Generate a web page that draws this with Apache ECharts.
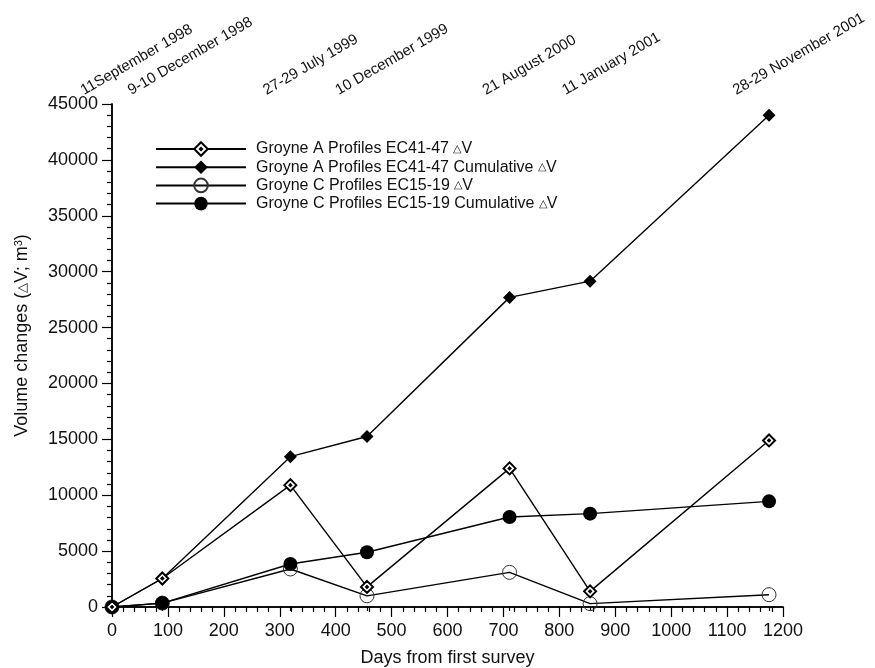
<!DOCTYPE html>
<html>
<head>
<meta charset="utf-8">
<script src="https://cdn.jsdelivr.net/npm/echarts@6/dist/echarts.min.js"></script>
<style>
  html, body { margin: 0; padding: 0; background: #fff; }
  #chart { width: 875px; height: 668px; }
</style>
</head>
<body>
<div id="chart"></div>
<script>
// Survey days counted from 11 September 1998
const surveyDays = [0, 90, 319, 456, 711, 855, 1175];
const surveyDates = [
  '11September 1998', '9-10 December 1998', '27-29 July 1999',
  '10 December 1999', '21 August 2000', '11 January 2001', '28-29 November 2001'
];

// Volume changes (m³)
const groyneA_dV = [0, 2550, 10900, 1800, 12400, 1400, 14900];
const groyneA_cum = [0, 2550, 13450, 15250, 27700, 29150, 44000];
const groyneC_dV = [0, 350, 3400, 1000, 3100, 300, 1100];
const groyneC_cum = [0, 350, 3850, 4900, 8050, 8350, 9450];

const seriesNames = [
  'Groyne A Profiles EC41-47 ΔV',
  'Groyne A Profiles EC41-47 Cumulative ΔV',
  'Groyne C Profiles EC15-19 ΔV',
  'Groyne C Profiles EC15-19 Cumulative ΔV'
];

const FONT = 'Liberation Sans, Arial, Helvetica, sans-serif';
const DATE_FONT_SIZE = 15;
const pair = (xs, ys) => xs.map((x, i) => [x, ys[i]]);

// Open diamond with a small dot in its middle
const openDiamond = 'path://M0,-10L10,0L0,10L-10,0Z M0,-1.6L1.6,0L0,1.6L-1.6,0Z';

const lineStyle = { color: '#000', width: 1.4 };

const chart = echarts.init(document.getElementById('chart'), null, { renderer: 'canvas' });

chart.setOption({
  backgroundColor: '#fff',
  animation: false,
  textStyle: { fontFamily: FONT },
  grid: { left: 112, right: 92, top: 104, bottom: 61, outerBoundsMode: 'none', containLabel: false },
  legend: {
    left: 155,
    top: 141,
    padding: 0,
    orient: 'vertical',
    itemWidth: 90,
    itemHeight: 17,
    itemGap: 2.2,
    data: seriesNames,
    formatter: name => name.replace('ΔV', '{t|△}V'),
    textStyle: {
      fontFamily: FONT, fontSize: 16, color: '#111', padding: [0, 0, 0, 5],
      rich: { t: { fontFamily: FONT, fontSize: 11, color: '#111' } }
    }
  },
  xAxis: [
    {
      type: 'value', position: 'bottom', min: 0, max: 1200, interval: 100,
      name: 'Days from first survey', nameLocation: 'middle', nameGap: 42,
      nameTextStyle: { fontFamily: FONT, fontSize: 18, color: '#111' },
      axisLine: { lineStyle: { color: '#000', width: 1.5 } },
      axisTick: { length: 10, lineStyle: { color: '#000', width: 1.2 } },
      minorTick: { show: true, splitNumber: 5, length: 5, lineStyle: { color: '#000', width: 1.2 } },
      axisLabel: { fontFamily: FONT, fontSize: 18, color: '#111', margin: 15, formatter: v => String(v) },
      splitLine: { show: false }
    },
    {
      type: 'value', position: 'top', min: 0, max: 1200,
      axisLine: { lineStyle: { color: '#000', width: 1.5 } },
      axisTick: {
        customValues: surveyDays, inside: true, length: 4,
        lineStyle: { color: '#000', width: 1.2 }
      },
      axisLabel: { show: false },
      splitLine: { show: false }
    }
  ],
  yAxis: [
    {
      type: 'value', min: 0, max: 45000, interval: 5000,
      name: 'Volume changes ({t|△}V; m{s|3})', nameLocation: 'middle', nameGap: 80,
      nameTextStyle: {
        fontFamily: FONT, fontSize: 18, color: '#111', padding: [0, 0, 0, 40],
        rich: {
          t: { fontFamily: FONT, fontSize: 13, color: '#111' },
          s: { fontFamily: FONT, fontSize: 11, color: '#111', padding: [0, 0, 8, 0] }
        }
      },
      axisLine: { lineStyle: { color: '#000', width: 1.5 } },
      axisTick: { length: 10, lineStyle: { color: '#000', width: 1.2 } },
      minorTick: { show: true, splitNumber: 5, length: 5, lineStyle: { color: '#000', width: 1.2 } },
      axisLabel: { fontFamily: FONT, fontSize: 18, color: '#111', margin: 14, formatter: v => String(v) },
      splitLine: { show: false }
    },
    {
      type: 'value', position: 'right', min: 0, max: 45000, interval: 5000,
      axisLine: { show: true, lineStyle: { color: '#000', width: 1.5 } },
      axisTick: { show: false },
      axisLabel: { show: false },
      splitLine: { show: false }
    }
  ],
  series: [
    {
      name: seriesNames[0], type: 'line', data: pair(surveyDays, groyneA_dV),
      symbol: openDiamond, symbolSize: 12, z: 4,
      lineStyle,
      itemStyle: { color: '#fff', borderColor: '#000', borderWidth: 2 }
    },
    {
      name: seriesNames[1], type: 'line', data: pair(surveyDays, groyneA_cum),
      symbol: 'diamond', symbolSize: 13, z: 3,
      lineStyle,
      itemStyle: { color: '#000', borderColor: '#000', borderWidth: 0 }
    },
    {
      name: seriesNames[2], type: 'line', data: pair(surveyDays, groyneC_dV),
      symbol: 'circle', symbolSize: 14, z: 2,
      lineStyle,
      itemStyle: { color: 'rgba(255,255,255,0)', borderColor: '#333', borderWidth: 1 }
    },
    {
      name: seriesNames[3], type: 'line', data: pair(surveyDays, groyneC_cum),
      symbol: 'circle', symbolSize: 14, z: 3,
      lineStyle,
      itemStyle: { color: '#000', borderColor: '#000', borderWidth: 0 }
    }
  ]
});

// Survey date labels above the top axis, slanted, placed through the x scale
const ctx = document.createElement('canvas').getContext('2d');
ctx.font = DATE_FONT_SIZE + 'px ' + FONT;
const angle = Math.PI / 6;
const topY = chart.convertToPixel({ yAxisIndex: 0 }, 45000);
chart.setOption({
  graphic: surveyDates.map((label, i) => {
    const px = chart.convertToPixel({ xAxisIndex: 0 }, surveyDays[i]);
    const w = ctx.measureText(label).width;
    return {
      type: 'text',
      x: px - 0.24 * w * Math.cos(angle),
      y: topY - 6,
      rotation: angle,
      style: {
        text: label,
        font: DATE_FONT_SIZE + 'px ' + FONT,
        fill: '#111',
        textAlign: 'left',
        textVerticalAlign: 'bottom'
      }
    };
  })
});
</script>
</body>
</html>
